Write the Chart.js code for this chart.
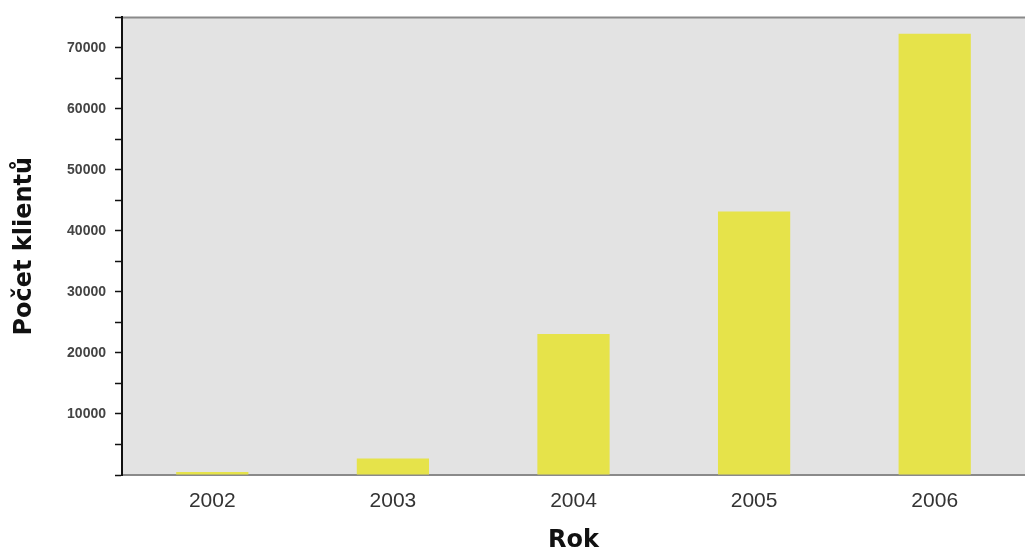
<!DOCTYPE html>
<html>
<head>
<meta charset="utf-8">
<script src="https://cdn.jsdelivr.net/npm/chart.js@4"></script>
<style>
  html, body { margin: 0; padding: 0; background: #fff; }
  #wrap { width: 1025px; height: 555px; }
</style>
</head>
<body>
<div id="wrap"><canvas id="chart" width="1025" height="555"></canvas></div>
<script>
const years = ['2002', '2003', '2004', '2005', '2006'];
const klienti = [500, 2700, 23100, 43200, 72300];

// plot background + top border
const plotBg = {
  id: 'plotBg',
  beforeDraw(chart) {
    const { ctx, chartArea: a } = chart;
    ctx.save();
    ctx.fillStyle = '#e3e3e3';
    ctx.fillRect(a.left, a.top, a.right - a.left, a.bottom - a.top);
    ctx.strokeStyle = '#8a8a8a';
    ctx.lineWidth = 2;
    ctx.beginPath();
    ctx.moveTo(a.left, a.top);
    ctx.lineTo(a.right, a.top);
    ctx.stroke();
    ctx.restore();
  }
};

new Chart(document.getElementById('chart'), {
  type: 'bar',
  data: {
    labels: years,
    datasets: [{
      label: 'Počet klientů',
      data: klienti,
      backgroundColor: '#e6e34a',
      barPercentage: 0.4,
      categoryPercentage: 1.0
    }]
  },
  options: {
    responsive: false,
    animation: false,
    layout: { padding: { top: 16, right: 0, left: 0, bottom: 0 } },
    plugins: { legend: { display: false }, tooltip: { enabled: false } },
    scales: {
      x: {
        grid: { display: false, drawTicks: false },
        border: { color: '#8a8a8a', width: 2 },
        ticks: { color: '#333', font: { family: 'Liberation Sans', size: 21 }, padding: 14 },
        title: {
          display: true, text: 'Rok', color: '#111',
          font: { family: 'DejaVu Sans', size: 24, weight: 'bold' },
          padding: { top: 12, bottom: 0 }
        },
        afterFit(s) { s.height = 80; }
      },
      y: {
        min: 0, max: 75000,
        grid: { drawOnChartArea: false, color: '#111', tickLength: 7, tickWidth: 1.5 },
        border: { color: '#111', width: 2 },
        ticks: {
          stepSize: 5000,
          color: '#444',
          font: { family: 'Liberation Sans', size: 14, weight: 'bold' },
          padding: 9,
          callback: v => (v % 10000 === 0 && v !== 0) ? String(v) : ''
        },
        title: {
          display: true, text: 'Počet klientů', color: '#111',
          font: { family: 'DejaVu Sans', size: 24, weight: 'bold' },
          padding: { top: 10, bottom: 0 }
        },
        afterFit(s) { s.width = 122; }
      }
    }
  },
  plugins: [plotBg]
});
</script>
</body>
</html>
